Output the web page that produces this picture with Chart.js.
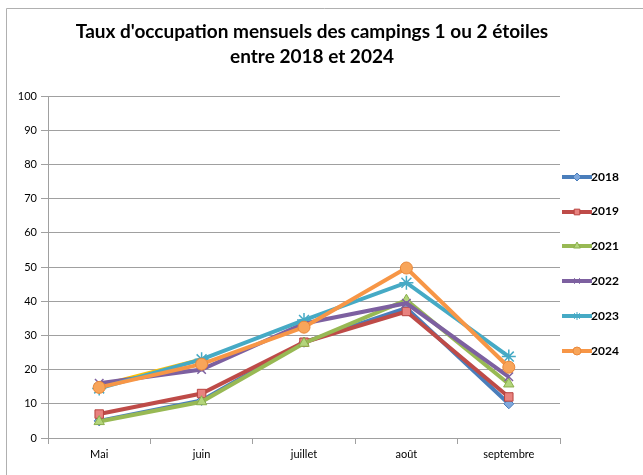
<!DOCTYPE html>
<html>
<head>
<meta charset="utf-8">
<script src="https://cdn.jsdelivr.net/npm/chart.js@4"></script>
<style>
  html, body { margin: 0; padding: 0; background: #fff; }
  #wrap { width: 643px; height: 475px; }
</style>
</head>
<body>
<div id="wrap"><canvas id="tauxChart" width="643" height="475"></canvas></div>
<script>
// months and yearly occupancy rates (%)
const months = ["Mai", "juin", "juillet", "août", "septembre"];
const years = ["2018", "2019", "2021", "2022", "2023", "2024"];
const taux2018 = [5, 11, 28, 38, 10];
const taux2019 = [7, 13, 28, 37, 12];
const taux2021 = [4.8, 10.6, 27.7, 40.3, 15.8];
const taux2022 = [16, 20, 33.5, 39.4, 17.9];
const taux2023 = [14.5, 23, 34.5, 45.4, 23.8];
const taux2024 = [14.8, 21.6, 32.4, 49.7, 20.7];
// stray yellow segment without legend entry
const tauxExtra = [15.2, 23, null, null, null];
const yTicks = [0, 10, 20, 30, 40, 50, 60, 70, 80, 90, 100];
const titleLines = ["Taux d'occupation mensuels des campings 1 ou 2 étoiles", "entre 2018 et 2024"];

const styles = [
    { line: "#4A7EBB", fill: "#7FA8DC", border: "#4A7EBB", point: "rectRot", r: 5 },
    { line: "#BE4B48", fill: "#E8827F", border: "#B8433F", point: "rect", r: 6 },
    { line: "#98B954", fill: "#B3D57B", border: "#8AAE4B", point: "triangle", r: 6 },
    { line: "#7D60A0", fill: "#7D60A0", border: "#7D60A0", point: "crossRot", r: 6 },
    { line: "#46AAC5", fill: "#46AAC5", border: "#46AAC5", point: "star", r: 7 },
    { line: "#F79646", fill: "#F8A55A", border: "#E9883A", point: "circle", r: 6 },
];
const seriesValues = [taux2018, taux2019, taux2021, taux2022, taux2023, taux2024];

function legendIcon(s) {
    const c = document.createElement("canvas");
    c.width = 30; c.height = 14;
    const g = c.getContext("2d");
    g.strokeStyle = s.line;
    g.lineWidth = 4;
    g.beginPath(); g.moveTo(0, 7); g.lineTo(30, 7); g.stroke();
    g.fillStyle = s.fill;
    g.strokeStyle = s.border;
    g.lineWidth = 1;
    Chart.helpers.drawPoint(g, { pointStyle: s.point, radius: 4, borderWidth: 1, rotation: 0 }, 15, 7);
    return c;
}

const datasets = seriesValues.map((vals, i) => ({
    label: years[i],
    data: vals,
    borderColor: styles[i].line,
    borderWidth: 4,
    pointStyle: styles[i].point,
    pointRadius: styles[i].r,
    pointBackgroundColor: styles[i].fill,
    pointBorderColor: styles[i].border,
    pointBorderWidth: (styles[i].point === "crossRot" || styles[i].point === "star") ? 1.5 : 1,
    tension: 0,
    order: 10 - i,
    icon: legendIcon(styles[i]),
}));
datasets.push({
    label: "",
    data: tauxExtra,
    borderColor: "#FFC000",
    borderWidth: 4,
    pointRadius: 0,
    tension: 0,
    order: 11,
});

// white background, frame lines, title and right-hand legend
const decorPlugin = {
    id: "decor",
    beforeDraw(chart) {
        const ctx = chart.ctx;
        ctx.save();
        ctx.fillStyle = "#fff";
        ctx.fillRect(0, 0, chart.width, chart.height);
        ctx.strokeStyle = "#b0b0b0";
        ctx.lineWidth = 1;
        ctx.beginPath();
        ctx.moveTo(6.5, chart.height);
        ctx.lineTo(6.5, 8.5);
        ctx.lineTo(chart.width, 8.5);
        ctx.stroke();
        ctx.restore();
    },
    afterDraw(chart) {
        const ctx = chart.ctx;
        const area = chart.chartArea;
        ctx.save();
        ctx.fillStyle = "#000";
        ctx.textAlign = "center";
        ctx.textBaseline = "middle";
        ctx.font = "bold 19px Lato";
        ctx.fillText(titleLines[0], 312, 32);
        ctx.fillText(titleLines[1], 312, 57);

        ctx.font = "bold 12px Lato";
        ctx.textAlign = "left";
        const step = 34.8;
        const y0 = (area.top + area.bottom) / 2 - 3.3 - step * 2.5;
        chart.data.datasets.forEach((ds, i) => {
            if (!ds.label) return;
            const y = y0 + i * step;
            ctx.drawImage(ds.icon, area.right + 2, Math.round(y) - 7);
            ctx.fillText(ds.label, area.right + 31, y);
        });
        ctx.restore();
    },
};

const ctx = document.getElementById("tauxChart").getContext("2d");
const tauxChart = new Chart(ctx, {
    type: "line",
    data: { labels: months, datasets: datasets },
    plugins: [decorPlugin],
    options: {
        responsive: false,
        animation: false,
        layout: { padding: { left: 8, right: 83, top: 96, bottom: 5 } },
        scales: {
            x: {
                offset: true,
                grid: { offset: true, drawOnChartArea: false, tickLength: 6, color: "#a0a0a0" },
                border: { color: "#a0a0a0" },
                ticks: { color: "#000", font: { family: "Lato", size: 11 }, padding: 4 },
                afterFit(scale) { scale.height = 32; },
            },
            y: {
                min: 0,
                max: 100,
                afterBuildTicks(scale) { scale.ticks = yTicks.map(v => ({ value: v })); },
                grid: { color: "#a0a0a0", tickLength: 7 },
                border: { color: "#a0a0a0" },
                ticks: { color: "#000", font: { family: "Lato", size: 11 }, padding: 4 },
                afterFit(scale) { scale.width = 40; },
            },
        },
        plugins: {
            title: { display: false },
            legend: { display: false },
            tooltip: { enabled: false },
        },
    },
});
</script>
</body>
</html>
